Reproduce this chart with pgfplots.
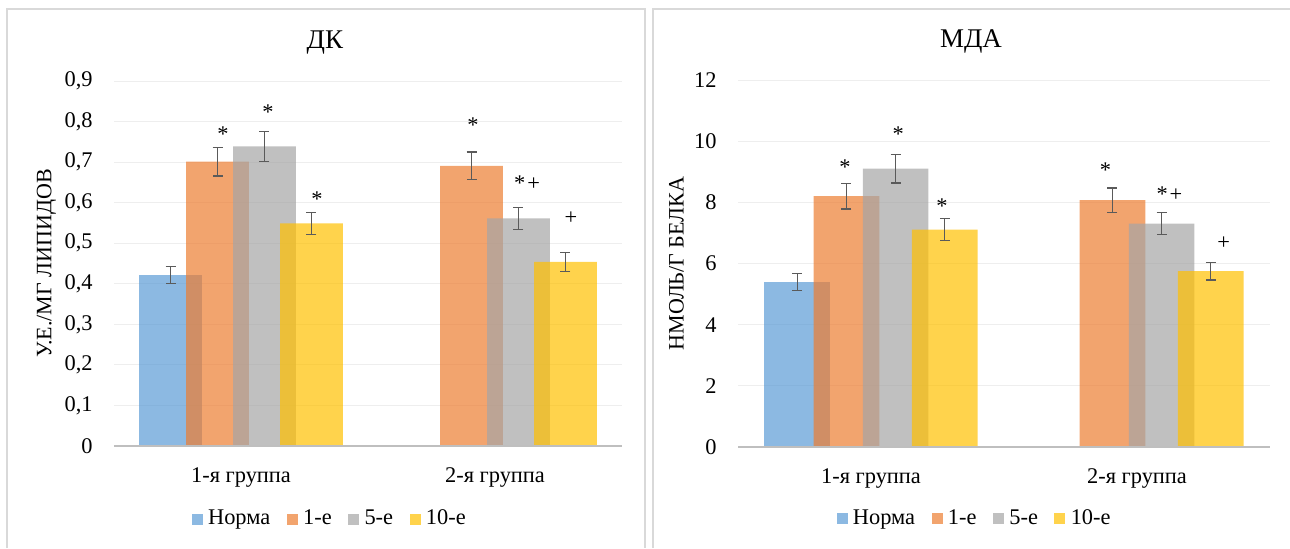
\documentclass[border=0pt]{standalone}
\usepackage{fontspec}
\setmainfont{Liberation Serif}
\usepackage{pgfplots}
\pgfplotsset{compat=1.18}
\definecolor{cblue}{HTML}{5B9BD5}
\definecolor{corange}{HTML}{ED7D31}
\definecolor{cgray}{HTML}{A5A5A5}
\definecolor{cyellow}{HTML}{FFC000}
\definecolor{errgray}{HTML}{5A5A5A}
\definecolor{gridgray}{HTML}{EEEEEE}
\definecolor{basegray}{HTML}{BFBFBF}
\definecolor{framegray}{HTML}{D9D9D9}
\tikzset{ann/.style={font=\fontsize{11.2}{13}\selectfont, inner sep=0pt, anchor=center},
  ttl/.style={font=\fontsize{13.5}{15}\selectfont, inner sep=0pt, anchor=center}}
\pgfplotsset{
  panel/.style={
    scale only axis, ybar, bar width=0.247, clip=false,
    xmin=-0.5, xmax=1.5, xtick={0,1},
    xticklabels={1-я группа,2-я группа},
    ymin=0,
    axis line style={draw=none}, major tick style={draw=none},
    ymajorgrids, grid style={color=gridgray, line width=0.5pt},
    tick label style={font=\fontsize{11.2}{13}\selectfont},
    yticklabel style={inner sep=0pt, xshift=-10.5pt},
    xticklabel style={inner sep=0pt, anchor=north, yshift=-6.5pt},
    /pgf/number format/.cd, use comma, fixed, precision=1, assume math mode=true,
    /pgfplots/.cd,
    ylabel style={font=\fontsize{11}{13}\selectfont, anchor=center},
    legend columns=-1,
    legend style={draw=none, fill=none, font=\fontsize{11.2}{13}\selectfont, anchor=center,
      /tikz/every even column/.append style={column sep=7pt},
      /tikz/every odd column/.append style={column sep=1.5pt},
      nodes={inner sep=1.2pt}},
    legend image code/.code={\fill[##1] (0pt,-2.75pt) rectangle (5.5pt,2.75pt);},
    error bars/y dir=both, error bars/y explicit,
    error bars/error bar style={color=errgray, line width=0.6pt},
    error bars/error mark options={rotate=90, mark size=2.5pt, color=errgray, line width=0.6pt},
  },
  sN/.style={fill=cblue, fill opacity=0.7, draw=none, bar shift=-0.2775},
  s1/.style={fill=corange, fill opacity=0.7, draw=none, bar shift=-0.0925},
  s5/.style={fill=cgray, fill opacity=0.7, draw=none, bar shift=0.0925},
  s10/.style={fill=cyellow, fill opacity=0.7, draw=none, bar shift=0.2775},
}
\begin{document}
\begin{tikzpicture}
\path[use as bounding box] (0,0) rectangle (645pt,274pt);
\draw[color=framegray, line width=1pt] (3.5pt,0) -- (3.5pt,269.5pt) -- (322.5pt,269.5pt) -- (322.5pt,0);
\draw[color=framegray, line width=1pt] (326.5pt,0) -- (326.5pt,269.5pt) -- (646pt,269.5pt);

% ---------- ДК ----------
\begin{axis}[panel, at={(57pt,51pt)}, anchor=south west,
  width=254pt, height=182.5pt, ymax=0.9,
  ytick={0,0.1,0.2,0.3,0.4,0.5,0.6,0.7,0.8,0.9},
  ylabel={У.Е./МГ ЛИПИДОВ}, ylabel style={at={(axis description cs:-0.133,0.5)}},
  legend style={at={(axis description cs:0.425,-0.2)}}]
\addplot[sN] coordinates {(0,0.422) +- (0,0.021)};
\addplot[s1] coordinates {(0,0.701) +- (0,0.035) (1,0.691) +- (0,0.034)};
\addplot[s5] coordinates {(0,0.739) +- (0,0.037) (1,0.561) +- (0,0.028)};
\addplot[s10] coordinates {(0,0.549) +- (0,0.027) (1,0.454) +- (0,0.023)};
\legend{Норма,1-е,5-е,10-е}
\draw[color=basegray, line width=1pt] (rel axis cs:0,0) -- (rel axis cs:1,0);
\node[ttl] at (rel axis cs:0.415,1.105) {ДК};
\node[ann] at (axis cs:-0.071,0.770) {*};
\node[ann] at (axis cs:0.106,0.822) {*};
\node[ann] at (axis cs:0.299,0.608) {*};
\node[ann] at (axis cs:0.913,0.790) {*};
\node[ann] at (axis cs:1.126,0.647) {*\kern1pt+};
\node[ann] at (axis cs:1.299,0.563) {+};
\end{axis}

% ---------- МДА ----------
\begin{axis}[panel, at={(369pt,50.5pt)}, anchor=south west,
  width=266pt, height=183.5pt, ymax=12,
  ytick={0,2,4,6,8,10,12},
  yticklabel style={/pgf/number format/precision=0},
  ylabel={НМОЛЬ/Г БЕЛКА}, ylabel style={at={(axis description cs:-0.1156,0.5)}},
  legend style={at={(axis description cs:0.445,-0.195)}}]
\addplot[sN] coordinates {(0,5.39) +- (0,0.28)};
\addplot[s1] coordinates {(0,8.20) +- (0,0.42) (1,8.07) +- (0,0.40)};
\addplot[s5] coordinates {(0,9.10) +- (0,0.47) (1,7.30) +- (0,0.36)};
\addplot[s10] coordinates {(0,7.11) +- (0,0.37) (1,5.75) +- (0,0.29)};
\legend{Норма,1-е,5-е,10-е}
\draw[color=basegray, line width=1pt] (rel axis cs:0,0) -- (rel axis cs:1,0);
\node[ttl] at (rel axis cs:0.438,1.105) {МДА};
\node[ann] at (axis cs:-0.098,9.15) {*};
\node[ann] at (axis cs:0.102,10.22) {*};
\node[ann] at (axis cs:0.267,7.88) {*};
\node[ann] at (axis cs:0.881,9.05) {*};
\node[ann] at (axis cs:1.122,8.27) {*\kern1pt+};
\node[ann] at (axis cs:1.326,6.66) {+};
\end{axis}
\end{tikzpicture}
\end{document}
